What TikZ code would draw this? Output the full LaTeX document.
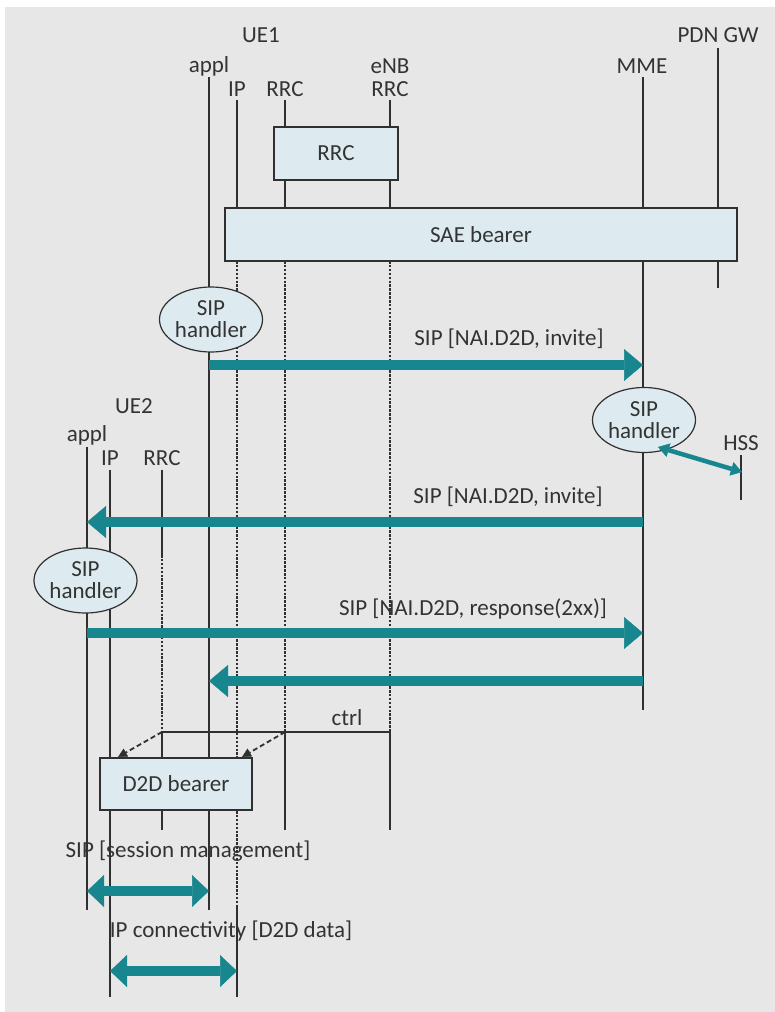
\documentclass[tikz,border=0pt]{standalone}
\usepackage{fontspec}
\setmainfont{Carlito}
\usetikzlibrary{arrows.meta,shapes.geometric}
\definecolor{bg}{HTML}{E7E7E7}
\definecolor{boxfill}{HTML}{DDEBF0}
\definecolor{tealc}{HTML}{17868F}
\definecolor{ink}{HTML}{303030}
\definecolor{txt}{HTML}{333333}
\begin{document}
\begin{tikzpicture}[x=1pt,y=-1pt,
  lbl/.style={font=\fontsize{23}{22}\selectfont, text=txt, inner sep=0pt, anchor=base},
  life/.style={draw=ink, line width=1.3pt},
  inactive/.style={draw=ink, line width=1.4pt, dash pattern=on 2.5pt off 1.4pt},
  blk/.style={draw=ink, line width=1.5pt, fill=boxfill, inner sep=0pt, font=\fontsize{23}{22}\selectfont, text=txt},
  handler/.style={ellipse, draw=ink, line width=1.2pt, fill=boxfill, minimum width=103pt, minimum height=65pt, inner sep=0pt, align=center, font=\fontsize{23}{22}\selectfont, text=txt},
  msg/.style={draw=tealc, line width=9.5pt, -{Triangle[length=19pt,width=32pt,line width=0.5pt]}},
  dmsg/.style={draw=tealc, line width=10pt, {Triangle[length=17pt,width=32pt,line width=0.5pt]}-{Triangle[length=17pt,width=32pt,line width=0.5pt]}},
  hssmsg/.style={draw=tealc, line width=4.5pt, {Triangle[length=11pt,width=14pt,line width=0.5pt]}-{Triangle[length=11pt,width=14pt,line width=0.5pt]}},
  ctrlarrow/.style={draw=ink, line width=1.8pt, dash pattern=on 5pt off 3pt, -{Triangle[length=9pt,width=9pt,line width=0.5pt]}},
  ctrlline/.style={draw=ink, line width=1.3pt}
]
\useasboundingbox (0,0) rectangle (775,1012);
\fill[white] (0,0) rectangle (775,1012);
\fill[bg] (5,7) rectangle (775,1012);

% ---------- lifeline coordinates ----------
\coordinate (a1t) at (209,77);   \coordinate (a1b) at (209,910);
\coordinate (i1t) at (237,100);  \coordinate (i1s) at (237,261); \coordinate (i1d) at (237,758);
\coordinate (i1e) at (237,811);  \coordinate (i1f) at (237,905); \coordinate (i1b) at (237,997);
\coordinate (r1t) at (285,100);  \coordinate (r1s) at (285,261); \coordinate (r1c) at (285,732); \coordinate (r1b) at (285,830);
\coordinate (ent) at (390,100);  \coordinate (ens) at (390,261); \coordinate (enc) at (390,732); \coordinate (enb) at (390,830);
\coordinate (mmt) at (643,77);   \coordinate (mmb) at (643,710);
\coordinate (pdt) at (718,48);   \coordinate (pdb) at (718,288);
\coordinate (hst) at (741,455);  \coordinate (hsb) at (741,500);
\coordinate (a2t) at (87,447);   \coordinate (a2b) at (87,910);
\coordinate (i2t) at (110,470);  \coordinate (i2b) at (110,997);
\coordinate (r2t) at (162,470);  \coordinate (r2s) at (162,555); \coordinate (r2c) at (162,732); \coordinate (r2b) at (162,830);

% ---------- lifelines ----------
\draw[life] (a1t) -- (a1b);
\draw[life] (i1t) -- (i1s);
\draw[inactive] (i1s) -- (i1d);
\draw[inactive] (i1e) -- (i1f);
\draw[life] (i1f) -- (i1b);
\draw[life] (r1t) -- (r1s);
\draw[inactive] (r1s) -- (r1c);
\draw[life] (r1c) -- (r1b);
\draw[life] (ent) -- (ens);
\draw[inactive] (ens) -- (enc);
\draw[life] (enc) -- (enb);
\draw[life] (mmt) -- (mmb);
\draw[life] (pdt) -- (pdb);
\draw[life] (hst) -- (hsb);
\draw[life] (a2t) -- (a2b);
\draw[life] (i2t) -- (i2b);
\draw[life] (r2t) -- (r2s);
\draw[inactive] (r2s) -- (r2c);
\draw[life] (r2c) -- (r2b);

% ---------- header labels ----------
\node[lbl] (ue1) at (261,42) {UE1};
\node[lbl] (pdn) at (718,42) {PDN GW};
\node[lbl] (appl1) at (209,72) {appl};
\node[lbl] (enbl) at (390,73) {eNB};
\node[lbl] (mmel) at (642,73) {MME};
\node[lbl] (ip1) at (237,96) {IP};
\node[lbl] (rrc1) at (285,96) {RRC};
\node[lbl] (rrce) at (390,96) {RRC};
\node[lbl] (ue2) at (134,413) {UE2};
\node[lbl] (appl2) at (87,441) {appl};
\node[lbl] (ip2) at (110,465) {IP};
\node[lbl] (rrc2) at (162,465) {RRC};
\node[lbl] (hss) at (741,450) {HSS};

% ---------- boxes ----------
\node[blk, minimum width=124pt, minimum height=53pt] (rrcbox) at (336,153.5) {RRC};
\node[blk, minimum width=512pt, minimum height=53pt] (sae) at (481,234.5) {SAE bearer};
\node[blk, minimum width=152pt, minimum height=52pt] (d2d) at (176,784) {D2D bearer};

% ---------- SIP handlers ----------
\node[handler] (h1) at (211,319.5) {SIP\\handler};
\node[handler] (hm) at (644,420) {SIP\\handler};
\node[handler] (h2) at (85.5,580.5) {SIP\\handler};

% ---------- messages ----------
\coordinate (m1s) at (209,365); \coordinate (m1e) at (643,365);
\coordinate (m2s) at (643,522); \coordinate (m2e) at (87,522);
\coordinate (m3s) at (87,633);  \coordinate (m3e) at (643,633);
\coordinate (m4s) at (643,681); \coordinate (m4e) at (209,681);
\coordinate (hsa) at (658,447); \coordinate (hsz) at (742,472);
\coordinate (d1s) at (87,891);  \coordinate (d1e) at (209,891);
\coordinate (d2s) at (110,971); \coordinate (d2e) at (237,971);

\draw[msg] (m1s) -- (m1e);
\draw[msg] (m2s) -- (m2e);
\draw[msg] (m3s) -- (m3e);
\draw[msg] (m4s) -- (m4e);
\draw[hssmsg] (hsa) -- (hsz);
\draw[dmsg] (d1s) -- (d1e);
\draw[dmsg] (d2s) -- (d2e);

\node[lbl] (m1l) at (509,345) {SIP [NAI.D2D, invite]};
\node[lbl] (m2l) at (508,503) {SIP [NAI.D2D, invite]};
\node[lbl] (m3l) at (473,615) {SIP [NAI.D2D, response(2xx)]};
\node[lbl] (sessl) at (188,857) {SIP [session management]};
\node[lbl] (ipcl) at (231,937) {IP connectivity [D2D data]};

% ---------- ctrl ----------
\draw[ctrlline] (r2c) -- (enc);
\node[lbl] (ctrl) at (347,725) {ctrl};
\coordinate (c1) at (118,757); \coordinate (c2) at (242,757);
\draw[ctrlarrow] (r2c) -- (c1);
\draw[ctrlarrow] (r1c) -- (c2);
\end{tikzpicture}
\end{document}
